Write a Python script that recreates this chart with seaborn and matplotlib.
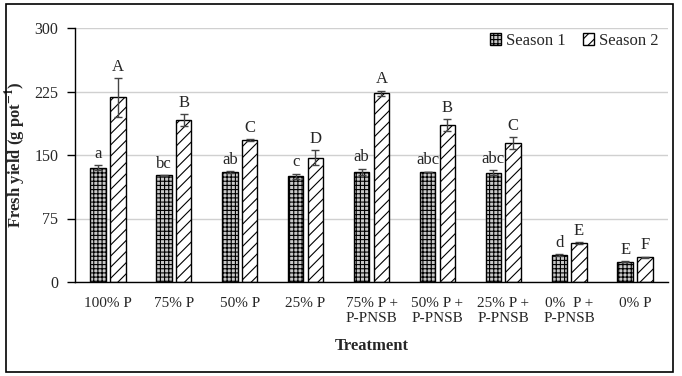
import numpy as np
import pandas as pd
import matplotlib
matplotlib.use("Agg")
import matplotlib.pyplot as plt
from matplotlib.patches import Rectangle, Patch
import seaborn as sns

treatments = ["100% P", "75% P", "50% P", "25% P", "75% P +\nP-PNSB",
              "50% P +\nP-PNSB", "25% P +\nP-PNSB", "0%  P +\nP-PNSB", "0% P"]
season1 = [135, 126, 130, 125, 130, 130, 129, 32, 24]
season1_err = [3, 0.5, 1, 3, 4, 0.5, 3, 1, 0.5]
season2 = [218, 191, 168, 147, 223, 185, 164, 46, 29]
season2_err = [23, 7, 1, 9, 3, 7, 7, 1, 1]
letters1 = ["a", "bc", "ab", "c", "ab", "abc", "abc", "d", "E"]
letters2 = ["A", "B", "C", "D", "A", "B", "C", "E", "F"]

df = pd.DataFrame({
    "Treatment": treatments * 2,
    "Yield": season1 + season2,
    "Season": ["Season 1"] * 9 + ["Season 2"] * 9,
})

sns.set_style("white")
plt.rcParams["font.family"] = ["Liberation Serif", "DejaVu Serif"]
plt.rcParams["mathtext.fontset"] = "stix"
plt.rcParams["hatch.linewidth"] = 0.8

fig = plt.figure(figsize=(6.82, 3.76), dpi=100)
ax = fig.add_axes([75 / 682, 1 - 282 / 376, (668 - 75) / 682, (282 - 28) / 376])

sns.barplot(data=df, x="Treatment", y="Yield", hue="Season", order=treatments,
            palette=["#c8c8c8", "white"], width=0.6, gap=0.22,
            edgecolor="black", linewidth=1.0, errorbar=None, legend=False, ax=ax)

hatches = ["++++", "///"]
for cont, hatch, errs, lets in zip(ax.containers, hatches,
                                   [season1_err, season2_err], [letters1, letters2]):
    xs, tops = [], []
    for bar in cont:
        bar.set_hatch(hatch)
        xs.append(bar.get_x() + bar.get_width() / 2)
        tops.append(bar.get_height())
    ax.errorbar(xs, tops, yerr=errs, fmt="none", ecolor="#444444",
                elinewidth=1, capsize=3, capthick=1)
    for x, t, e, l in zip(xs, tops, errs, lets):
        ax.text(x, t + e + 4, l, ha="center", va="bottom", fontsize=12)

ax.set_ylim(0, 300)
ax.set_yticks([0, 75, 150, 225, 300])
ax.set_xlim(-0.5, 8.5)
ax.yaxis.grid(True, color="#d0d0d0", linewidth=1)
ax.set_axisbelow(True)
for s in ["top", "right"]:
    ax.spines[s].set_visible(False)
for s in ["left", "bottom"]:
    ax.spines[s].set_color("black")
    ax.spines[s].set_linewidth(1)

ax.set_xticks(np.arange(-0.5, 9, 1), minor=True)
ax.tick_params(axis="x", which="major", length=0, labelsize=11, pad=11)
ax.tick_params(axis="x", which="minor", length=6, width=1, color="black", direction="out")
ax.tick_params(axis="y", length=6, width=1, color="black", direction="out",
               left=True, labelsize=11.5, pad=6)

ax.set_xlabel("Treatment", fontsize=12, fontweight="bold", labelpad=9)
ax.set_ylabel("Fresh yield (g pot$^{\\mathbf{-1}}$)", fontsize=12, fontweight="bold")
ax.yaxis.set_label_coords(-0.079, 0.5)

handles = [Patch(facecolor="#c8c8c8", edgecolor="black", hatch="++++", label="Season 1"),
           Patch(facecolor="white", edgecolor="black", hatch="///", label="Season 2")]
ax.legend(handles=handles, loc="upper right", bbox_to_anchor=(1.01, 1.04), frameon=False,
          ncol=2, fontsize=12, handlelength=0.7, handleheight=0.7,
          handletextpad=0.3, columnspacing=1.0)

fig.patches.append(Rectangle((6 / 682, 4 / 376), 667 / 682, 368 / 376,
                             transform=fig.transFigure, fill=False,
                             edgecolor="black", linewidth=1.2))

fig.savefig("out.png", dpi=100)
